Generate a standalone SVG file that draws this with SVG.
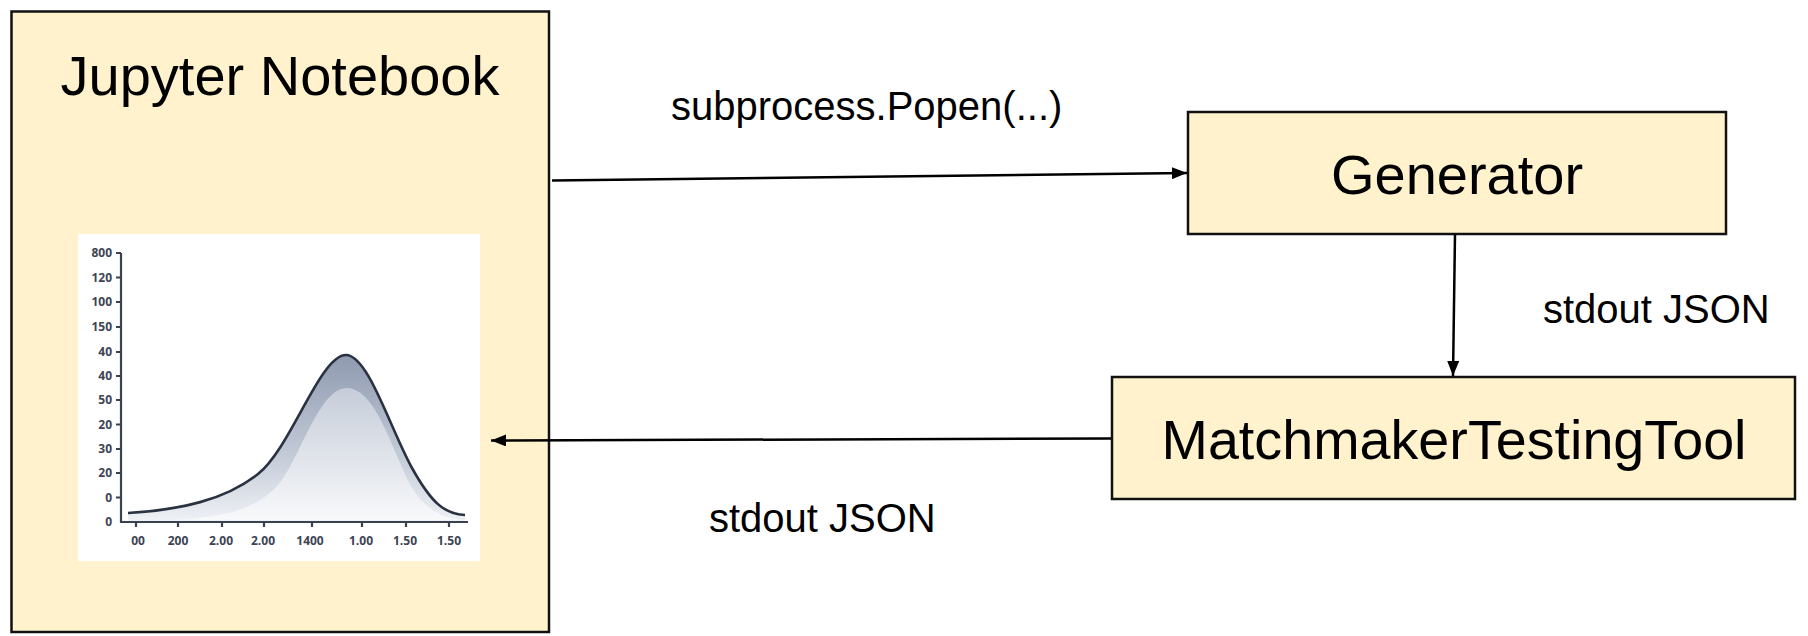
<svg xmlns="http://www.w3.org/2000/svg" width="1808" height="636" viewBox="0 0 1808 636">
<style>
.box{fill:#fff2cc;stroke:#111;stroke-width:2.5}
.lbl{font-family:"Liberation Sans",Arial,sans-serif;fill:#000}
.big{font-size:56px}
.mid{font-size:40px}
.conn{stroke:#000;stroke-width:2.5;fill:none}
.ax{stroke:#3a4150;stroke-width:2.2;fill:none}
.tk{font-family:"Open Sans","DejaVu Sans",sans-serif;font-size:12px;font-weight:700;fill:#3d4454}
</style>
<defs>
<marker id="ah" markerUnits="userSpaceOnUse" markerWidth="15" markerHeight="12" refX="15" refY="6" orient="auto">
<path d="M0,0 L15,6 L0,12 z" fill="#000"/>
</marker>
<linearGradient id="gOut" gradientUnits="userSpaceOnUse" x1="0" y1="355" x2="0" y2="521">
<stop offset="0" stop-color="#8f9ab0"/>
<stop offset="0.6" stop-color="#c3cad7"/>
<stop offset="1" stop-color="#eef1f5"/>
</linearGradient>
<linearGradient id="gIn" gradientUnits="userSpaceOnUse" x1="0" y1="388" x2="0" y2="521">
<stop offset="0" stop-color="#c6cdd9"/>
<stop offset="1" stop-color="#f8f9fb"/>
</linearGradient>
</defs>
<rect width="1808" height="636" fill="#fff"/>

<g id="notebook">
<rect class="box" x="11.5" y="11.5" width="537.5" height="620.5"/>
<text class="lbl big" x="280" y="95" text-anchor="middle">Jupyter Notebook</text>
<g id="chart">
<rect x="78" y="234" width="402" height="327" fill="#fff"/>
<path d="M128,513 C180,510 225,500 258,474 C291,448 320,355 346,355 C368,355 390,428 412,468 C432,504 445,514 465,515 L465,521 L128,521 Z" fill="url(#gOut)"/>
<path d="M175,520 C232,517 262,506 282,480 C302,452 320,388 347,388 C372,388 388,436 404,472 C416,500 432,515 458,520 Z" fill="url(#gIn)"/>
<path d="M128,513 C180,510 225,500 258,474 C291,448 320,355 346,355 C368,355 390,428 412,468 C432,504 445,514 465,515" stroke="#2a3140" stroke-width="2.6" fill="none"/>
<path class="ax" d="M121,253 L121,522 L468,522"/>
<path class="ax" d="M116,253H121M116,277.5H121M116,302H121M116,327H121M116,352H121M116,376H121M116,400H121M116,424.5H121M116,449H121M116,473H121M116,497.5H121M136,522V527M178,522V527M222,522V527M264,522V527M312,522V527M362,522V527M406,522V527M449,522V527"/>
<g class="tk" text-anchor="end">
<text x="112" y="257">800</text>
<text x="112" y="281.5">120</text>
<text x="112" y="306">100</text>
<text x="112" y="331">150</text>
<text x="112" y="356">40</text>
<text x="112" y="380">40</text>
<text x="112" y="404">50</text>
<text x="112" y="428.5">20</text>
<text x="112" y="453">30</text>
<text x="112" y="477">20</text>
<text x="112" y="501.5">0</text>
<text x="112" y="526">0</text>
</g>
<g class="tk" text-anchor="middle">
<text x="138" y="545">00</text>
<text x="178" y="545">200</text>
<text x="221" y="545">2.00</text>
<text x="263" y="545">2.00</text>
<text x="310" y="545">1400</text>
<text x="361" y="545">1.00</text>
<text x="405" y="545">1.50</text>
<text x="449" y="545">1.50</text>
</g>
</g>
</g>

<g id="generator">
<rect class="box" x="1188" y="112" width="538" height="122"/>
<text class="lbl big" x="1457" y="194" text-anchor="middle">Generator</text>
</g>

<g id="matchmaker">
<rect class="box" x="1112" y="377" width="683" height="122"/>
<text class="lbl big" x="1454" y="459" text-anchor="middle" textLength="585" lengthAdjust="spacingAndGlyphs">MatchmakerTestingTool</text>
</g>

<g id="connectors">
<line class="conn" x1="552" y1="180.5" x2="1187" y2="173" marker-end="url(#ah)"/>
<line class="conn" x1="1455" y1="234" x2="1453" y2="376" stroke-width="2" marker-end="url(#ah)"/>
<line class="conn" x1="1111" y1="438.5" x2="491" y2="440.5" marker-end="url(#ah)"/>
<text class="lbl mid" x="671" y="120">subprocess.Popen(...)</text>
<text class="lbl mid" x="1543" y="323">stdout JSON</text>
<text class="lbl mid" x="709" y="532">stdout JSON</text>
</g>
</svg>
